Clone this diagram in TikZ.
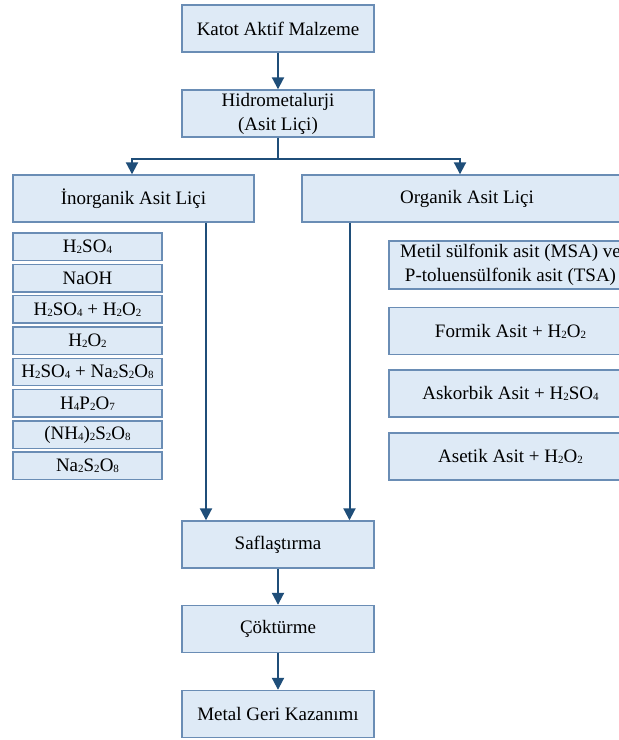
\documentclass[tikz,border=0pt]{standalone}
\usepackage{fontspec}
\setmainfont{Liberation Serif}
\usetikzlibrary{arrows.meta, positioning, calc}
\definecolor{boxfill}{HTML}{DEEAF6}
\definecolor{boxline}{HTML}{6A8DB5}
\definecolor{arrowblue}{HTML}{1F4E79}
\newcommand{\ix}[1]{\raisebox{-1pt}{\fontsize{11}{11}\selectfont #1}}
\tikzset{
  stage/.style={draw=boxline, fill=boxfill, line width=1.4pt, inner sep=0pt,
    minimum width=192pt, minimum height=47pt, align=center,
    font=\rmfamily\fontsize{19}{24}\selectfont},
  chem/.style={stage, minimum width=149pt, minimum height=27.5pt},
  orgchem/.style={stage, minimum width=243pt},
  flow/.style={draw=arrowblue, line width=2pt, -{Triangle[length=12pt,width=12pt]}},
}

\begin{document}
\begin{tikzpicture}[x=1pt, y=-1pt]
\clip (0,0) rectangle (619,740);
\fill[white] (0,0) rectangle (619,740);
% Main chain
\node[stage] (katot) at (278,28.5) {Katot Aktif Malzeme};
\node[stage] (hidro) at (278,113.5) {Hidrometalurji\\(Asit Liçi)};
\node[stage, minimum width=241pt] (inorg) at (133.5,198.5) {İnorganik Asit Liçi};
\node[stage, minimum width=330pt] (org) at (467,198.5) {Organik Asit Liçi};
\node[stage] (safl) at (278,544.5) {Saflaştırma};
\node[stage] (cokt) at (278,629) {Çöktürme};
\node[stage] (metal) at (278,714) {Metal Geri Kazanımı};
% Inorganic acids
\foreach \lbl [count=\i from 0] in {H\ix{2}SO\ix{4}, NaOH, H\ix{2}SO\ix{4} + H\ix{2}O\ix{2},
    H\ix{2}O\ix{2}, H\ix{2}SO\ix{4} + Na\ix{2}S\ix{2}O\ix{8}, H\ix{4}P\ix{2}O\ix{7},
    (NH\ix{4})\ix{2}S\ix{2}O\ix{8}, Na\ix{2}S\ix{2}O\ix{8}} {
    \pgfmathsetmacro{\yc}{246.75+31.3*\i}
    \node[chem] (inorg\i) at (87.5,\yc) {\lbl};
}
% Organic acids
\node[orgchem, minimum height=48pt] (msa) at (510.5,265) {Metil sülfonik asit (MSA) ve\\P-toluensülfonik asit (TSA)};
\node[orgchem] (formik) at (510.5,331) {Formik Asit + H\ix{2}O\ix{2}};
\node[orgchem] (askorbik) at (510.5,393.5) {Askorbik Asit + H\ix{2}SO\ix{4}};
\node[orgchem] (asetik) at (510.5,456.5) {Asetik Asit + H\ix{2}O\ix{2}};
% Connectors
\coordinate (brL) at (132,158.5);
\coordinate (brR) at (460,158.5);
\coordinate (dropL) at (206,0);
\coordinate (dropR) at (349.5,0);
\draw[flow] (katot) -- (hidro);
\draw[flow] (hidro.south) |- (brL) -- (brL |- inorg.north);
\draw[flow] (hidro.south) |- (brR) -- (brR |- org.north);
\draw[flow] (dropL |- inorg.south) -- (dropL |- safl.north);
\draw[flow] (dropR |- org.south) -- (dropR |- safl.north);
\draw[flow] (safl) -- (cokt);
\draw[flow] (cokt) -- (metal);
\end{tikzpicture}
\end{document}
